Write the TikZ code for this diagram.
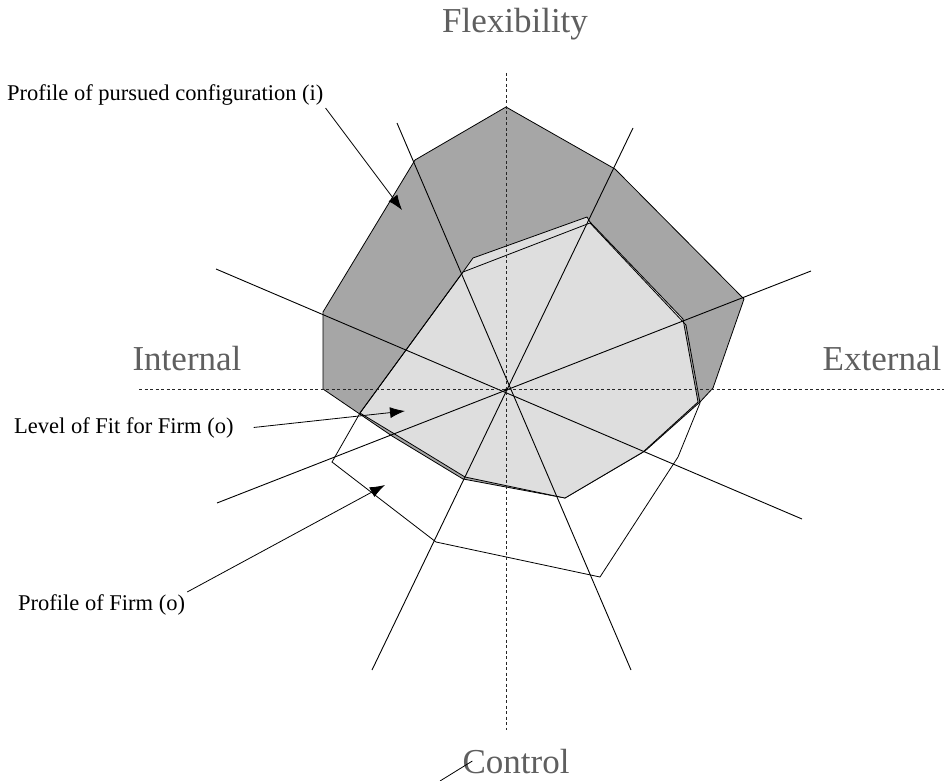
\documentclass[tikz,border=0pt]{standalone}
\usepackage{fontspec}
\setmainfont{Liberation Serif}
\usetikzlibrary{arrows.meta}

\definecolor{pursuedgray}{HTML}{A6A6A6}
\definecolor{fitgray}{HTML}{DEDEDE}
\definecolor{axisgray}{HTML}{5F5F5F}

\begin{document}
\begin{tikzpicture}[x=1pt, y=-1pt,
    % Define styles
    axislabel/.style={
        text=axisgray,
        font=\fontsize{35}{40}\selectfont,
        inner sep=0pt,
        anchor=base
    },
    annot/.style={
        font=\fontsize{22.5}{26}\selectfont,
        inner sep=2pt,
        anchor=base west
    },
    spoke/.style={
        line width=0.9pt
    },
    axisline/.style={
        line width=0.8pt,
        dash pattern=on 3pt off 2.5pt,
        black!85
    },
    profile/.style={
        draw,
        line width=0.8pt,
        line join=miter
    },
    pointer/.style={
        -{Latex[length=15pt,width=11pt]},
        line width=0.8pt
    }
]

% Page frame
\useasboundingbox (0,0) rectangle (948,781);

% Centre and spoke ends
\coordinate (centre) at (506,390);
\coordinate (spokeAa) at (397,123);
\coordinate (spokeAb) at (631,670);
\coordinate (spokeBa) at (633,128);
\coordinate (spokeBb) at (372,670);
\coordinate (spokeCa) at (811,271);
\coordinate (spokeCb) at (217,503);
\coordinate (spokeDa) at (216,269);
\coordinate (spokeDb) at (802,519);

% Profile of pursued configuration (i)
\fill[pursuedgray] (506,107) -- (615,169) -- (744,299) -- (713,388) -- (700,402)
    -- (645,451) -- (565,498) -- (463,479) -- (392,436) -- (323,389)
    -- (323,312) -- (415,160) -- cycle;
\draw[profile] (506,107) -- (615,169) -- (744,299) -- (713,388) -- (700,402)
    -- (645,451) -- (565,498) -- (463,479) -- (392,436) -- (323,389)
    -- (323,312) -- (415,160) -- cycle;

% Level of fit
\fill[fitgray] (463,272) -- (473,258) -- (587,217) -- (590,222) -- (683,319)
    -- (698,402) -- (643,452) -- (565,498) -- (465,477) -- (393,433)
    -- (360,413) -- cycle;
\draw[profile] (463,272) -- (473,258) -- (587,217) -- (590,222) -- (683,319)
    -- (698,402) -- (643,452) -- (565,498) -- (465,477) -- (393,433)
    -- (360,413) -- cycle;

% Profile of firm (o)
\draw[profile] (463,272) -- (590,223) -- (686,325) -- (700,403) -- (678,457)
    -- (600,577) -- (436,542) -- (332,462) -- (360,413) -- cycle;

% Spokes
\draw[spoke] (spokeAa) -- (spokeAb);
\draw[spoke] (spokeBa) -- (spokeBb);
\draw[spoke] (spokeCa) -- (spokeCb);
\draw[spoke] (spokeDa) -- (spokeDb);

% Dashed axes
\draw[axisline] (506,73) -- (506,730);
\draw[axisline] (139,389) -- (944,389);
\fill (centre) circle (1.6pt);

% Axis labels
\node[axislabel] (flex) at (515,33) {Flexibility};
\node[axislabel] (internal) at (187,370) {Internal};
\node[axislabel] (external) at (882,370) {External};
\node[axislabel] (control) at (516,773) {Control};

% Annotations
\node[annot] (pursuedlbl) at (5,101) {Profile of pursued configuration (i)};
\node[annot] (fitlbl) at (12,433) {Level of Fit for Firm (o)};
\node[annot] (firmlbl) at (16,610) {Profile of Firm (o)};

\coordinate (pursuedtip) at (402,210);
\coordinate (fittip) at (405,411);
\coordinate (firmtip) at (385,485);
\coordinate (ctrltail) at (440,781);

\draw[pointer] (pursuedlbl.south east) -- (pursuedtip);
\draw[pointer] ([xshift=18pt]fitlbl.east) -- (fittip);
\draw[pointer] (firmlbl.north east) -- (firmtip);
\draw[line width=0.8pt] (ctrltail) -- ([xshift=10pt]control.west);

\end{tikzpicture}
\end{document}
